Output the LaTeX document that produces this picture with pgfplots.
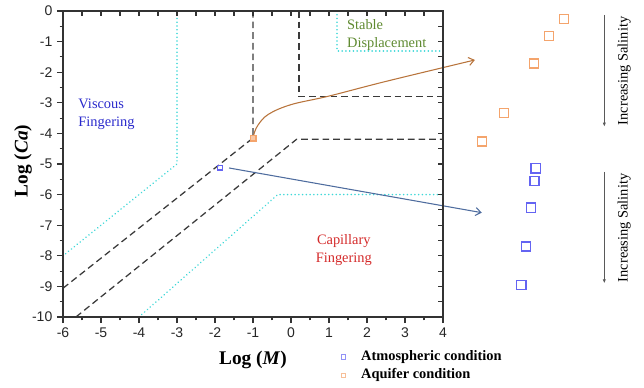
\documentclass[border=0pt]{standalone}
\usepackage{fontspec}
\setmainfont{Liberation Serif}
\setsansfont{Liberation Sans}
\usepackage{pgfplots}
\pgfplotsset{compat=1.18}
\usetikzlibrary{arrows.meta}

\definecolor{cyanline}{HTML}{40D8D8}
\definecolor{dashgray}{HTML}{3A3A3A}
\definecolor{atmblue}{HTML}{6464F2}
\definecolor{aqorange}{HTML}{F4A46C}
\definecolor{arrowbrown}{HTML}{B8743C}
\definecolor{arrowblue}{HTML}{4E6C9E}
\definecolor{viscblue}{HTML}{2A2ACC}
\definecolor{stablegreen}{HTML}{5F8A30}
\definecolor{capred}{HTML}{D42A2A}

\begin{document}
\begin{tikzpicture}
\begin{axis}[
  at={(0,0)}, anchor=south west,
  scale only axis, width=285pt, height=229.5pt,
  xmin=-6, xmax=4, ymin=-10, ymax=0,
  clip=false,
  axis line style={line width=0.9pt, color=black!80},
  xtick={-6,...,4}, ytick={-10,...,0},
  minor x tick num=1, minor y tick num=1,
  tick align=outside, xtick pos=bottom, ytick pos=left,
  major tick length=4.5pt, minor tick length=2.6pt,
  every tick/.style={line width=0.8pt, color=black!80},
  ticklabel style={font=\sffamily\fontsize{10.5}{12}\selectfont, color=black!85},
  /pgf/number format/assume math mode=true,
  xlabel={\textbf{Log (\textit{M})}},
  ylabel={\textbf{Log (\textit{Ca})}},
  every axis x label/.style={at={(axis description cs:0.5,-0.1405)}, anchor=center, font=\fontsize{14.5}{16}\selectfont},
  every axis y label/.style={at={(axis description cs:-0.105,0.51)}, anchor=center, rotate=90, font=\fontsize{14.5}{16}\selectfont},
  legend style={at={(axis cs:1.07,-11.04)}, anchor=north west, draw=none, fill=none,
    font=\bfseries\fontsize{10.8}{12}\selectfont, row sep=2pt, inner sep=0pt,
    nodes={inner sep=1pt, text height=7.5pt, text depth=2.3pt},
    /tikz/every odd column/.append style={column sep=3.5pt}},
  legend image code/.code={\path (0cm,0cm) (0.6cm,0cm); \draw[#1] plot coordinates {(0.3cm,0cm)};},
  legend cell align=left,
]
% region boundaries
\addplot[forget plot, cyanline, line width=1.3pt, line cap=round, dash pattern=on 0.01pt off 2.8pt] coordinates {(-3,0) (-3,-5) (-6,-8)};
\addplot[forget plot, cyanline, line width=1.3pt, line cap=round, dash pattern=on 0.01pt off 2.8pt] coordinates {(-4,-10) (-0.35,-6) (4,-6)};
\addplot[forget plot, cyanline, line width=1.3pt, line cap=round, dash pattern=on 0.01pt off 2.8pt] coordinates {(1.21,0) (1.21,-1.3) (4,-1.3)};
\addplot[forget plot, dashgray, line width=0.95pt, dash pattern=on 5pt off 3pt] coordinates {(-6,-9.06) (-1,-4.15) (-1,0)};
\addplot[forget plot, dashgray, line width=0.95pt, dash pattern=on 5pt off 3pt] coordinates {(-5.66,-10) (0.15,-4.19) (4,-4.19)};
\addplot[forget plot, dashgray, line width=0.95pt, dash pattern=on 5pt off 3pt] coordinates {(0.21,0) (0.21,-2.8) (4,-2.8)};
% arrows
\addplot[forget plot, arrowbrown, line width=0.8pt, smooth, tension=0.6, -{Straight Barb[length=4pt,width=6pt]}] coordinates {(-0.98,-4.05) (-0.88,-3.75) (-0.6,-3.38) (0,-3.06) (1,-2.78) (2.5,-2.3) (4.84,-1.6)};
\addplot[forget plot, arrowblue, line width=0.8pt, -{Straight Barb[length=4pt,width=6pt]}] coordinates {(-1.63,-5.13) (5.02,-6.59)};
% points in the axis
\addplot[forget plot, only marks, mark=square*, mark size=2pt, color=aqorange, mark options={fill=aqorange!60, line width=1pt}] coordinates {(-0.99,-4.16)};
\addplot[forget plot, only marks, mark=square, mark size=1.8pt, color=atmblue, mark options={line width=1pt}] coordinates {(-1.87,-5.12)};
% salinity series outside
\addplot[forget plot, only marks, mark=square, mark size=3.4pt, color=aqorange, mark options={line width=1.1pt}] coordinates {(7.18,-0.26) (6.79,-0.82) (6.40,-1.71) (5.61,-3.34) (5.03,-4.27)};
\addplot[forget plot, only marks, mark=square, mark size=3.4pt, color=atmblue, mark options={line width=1.1pt}] coordinates {(6.44,-5.14) (6.41,-5.56) (6.31,-6.43) (6.18,-7.70) (6.06,-8.95)};
% salinity arrows
\addplot[forget plot, black!65, line width=0.8pt, -{Latex[length=3pt,width=2.5pt]}] coordinates {(8.245,-0.13) (8.245,-3.78)};
\addplot[forget plot, black!65, line width=0.8pt, -{Latex[length=3pt,width=2.5pt]}] coordinates {(8.245,-5.26) (8.245,-8.9)};
\node[rotate=90, font=\fontsize{10.8}{12}\selectfont] at (axis cs:8.77,-1.96) {Increasing Salinity};
\node[rotate=90, font=\fontsize{10.8}{12}\selectfont] at (axis cs:8.77,-7.09) {Increasing Salinity};
% region labels
\node[anchor=west, inner sep=0pt, align=left, text=viscblue, font=\fontsize{10.8}{13.5}\selectfont] at (axis cs:-5.6,-3.37) {Viscous\\Fingering};
\node[anchor=west, inner sep=0pt, align=left, text=stablegreen, font=\fontsize{10.8}{13.5}\selectfont] at (axis cs:1.47,-0.78) {Stable\\Displacement};
\node[inner sep=0pt, align=center, text=capred, font=\fontsize{10.8}{13.5}\selectfont] at (axis cs:1.39,-7.81) {Capillary\\Fingering};
% legend
\addlegendimage{only marks, mark=square, mark size=1.7pt, color=atmblue!70, mark options={line width=0.6pt}}
\addlegendentry{Atmospheric condition}
\addlegendimage{only marks, mark=square, mark size=1.7pt, color=aqorange!70, mark options={line width=0.6pt}}
\addlegendentry{Aquifer condition}
\end{axis}
\begin{axis}[
  at={(0,0)}, anchor=south west,
  scale only axis, width=285pt, height=229.5pt,
  xmin=-6, xmax=4, ymin=-10, ymax=0,
  axis line style={line width=0.9pt, color=black!80},
  xtick={-6,...,4}, ytick={-10,...,0},
  minor x tick num=1, minor y tick num=1,
  tick align=inside, xtick pos=top, ytick pos=right,
  major tick length=3.5pt, minor tick length=3.5pt,
  every tick/.style={line width=0.8pt, color=black!80},
  xticklabels={}, yticklabels={},
]
\end{axis}
\pgfresetboundingbox
\path (-47.25pt,-52.5pt) rectangle (435.75pt,237.75pt);
\end{tikzpicture}
\end{document}
